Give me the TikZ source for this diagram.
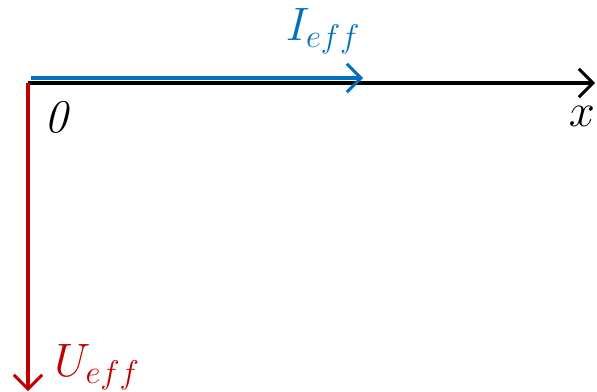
\RequirePackage{fix-cm}
\documentclass[tikz,border=0pt]{standalone}
\usepackage{amsmath,amssymb}
\usetikzlibrary{arrows.meta}
\definecolor{effblue}{RGB}{0,112,192}
\definecolor{effred}{RGB}{192,0,0}

\begin{document}
\begin{tikzpicture}[x=0.03cm, y=-0.03cm, every node/.style={font=\fontsize{40}{44}\selectfont}, >={Straight Barb[length=4.2mm, width=8.5mm, line width=2.6pt]}]
	\useasboundingbox (0,0) rectangle (597,391);
	\coordinate (O) at (28,83);
	\coordinate (xend) at (595,83);
	\coordinate (istart) at (31,78);
	\coordinate (iend) at (363,78);
	\coordinate (uend) at (28,391);
	\draw[->, line width=2.8pt] (O) -- (xend);
	\draw[->, effblue, line width=3.4pt] (istart) -- (iend);
	\draw[->, effred, line width=2.8pt] (O) -- (uend);
	\node (zero) at (57,117) {\textit{0}};
	\node (xlab) at (582,116) {$x$};
	\node[effblue] (ilab) at (323,31) {$I_{eff}$};
	\node[effred] (ulab) at (97,367) {$U_{eff}$};
\end{tikzpicture}
\end{document}
